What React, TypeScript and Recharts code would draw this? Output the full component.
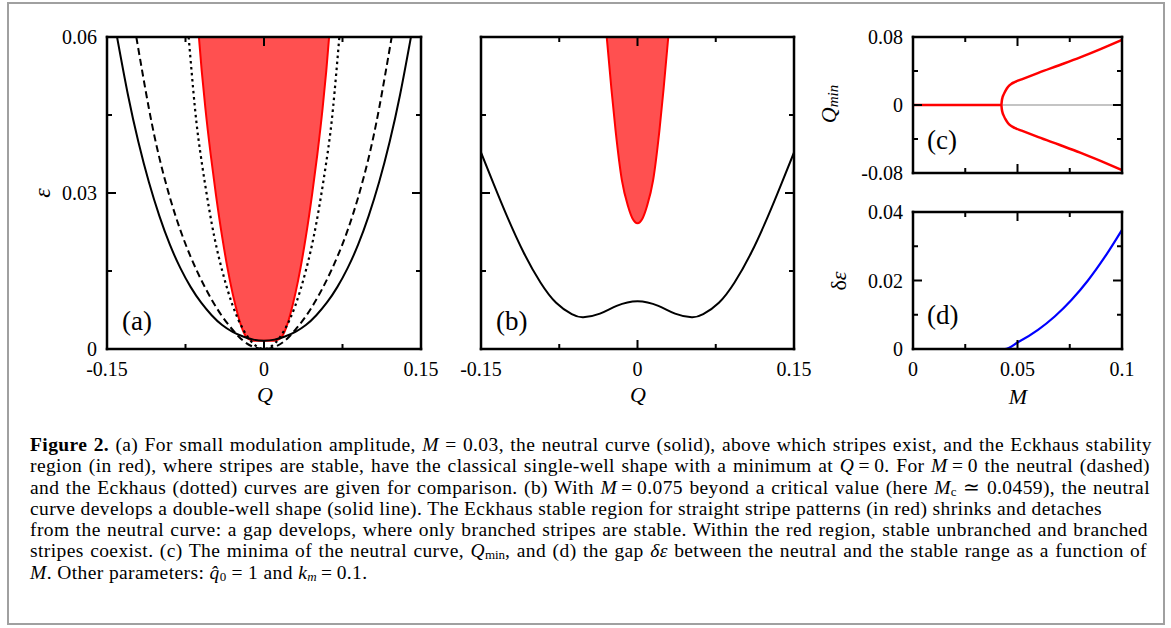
import React from 'react';
import { ComposedChart, Line, Area, XAxis, YAxis } from 'recharts';

// (a) M = 0.03 neutral curve (solid)
const qNeutralA = [-0.1404, -0.13, -0.12, -0.11, -0.1, -0.09, -0.08, -0.07, -0.06, -0.05, -0.04, -0.03, -0.02, -0.01, 0, 0.01, 0.02, 0.03, 0.04, 0.05, 0.06, 0.07, 0.08, 0.09, 0.1, 0.11, 0.12, 0.13, 0.1404];
const epsNeutralA = [0.06, 0.0489, 0.0398, 0.0321, 0.0256, 0.0201, 0.0156, 0.0119, 0.0089, 0.0065, 0.0046, 0.0033, 0.0024, 0.0018, 0.0016, 0.0018, 0.0024, 0.0033, 0.0046, 0.0065, 0.0089, 0.0119, 0.0156, 0.0201, 0.0256, 0.0321, 0.0398, 0.0489, 0.06];

// (a) M = 0 neutral curve (dashed)
const qNeutral0 = [-0.122, -0.11, -0.1, -0.09, -0.08, -0.07, -0.06, -0.05, -0.04, -0.03, -0.02, -0.01, 0, 0.01, 0.02, 0.03, 0.04, 0.05, 0.06, 0.07, 0.08, 0.09, 0.1, 0.11, 0.122];
const epsNeutral0 = [0.06, 0.0463, 0.0368, 0.0292, 0.0229, 0.0177, 0.0133, 0.0095, 0.0063, 0.0037, 0.0016, 0.0004, 0, 0.0004, 0.0016, 0.0037, 0.0063, 0.0095, 0.0133, 0.0177, 0.0229, 0.0292, 0.0368, 0.0463, 0.06];

// (a) M = 0 Eckhaus curve (dotted)
const qEckhaus0 = [-0.072, -0.066, -0.06, -0.05, -0.04, -0.03, -0.02, -0.01, 0, 0.01, 0.02, 0.03, 0.04, 0.05, 0.06, 0.066, 0.072];
const epsEckhaus0 = [0.06, 0.0464, 0.0366, 0.0242, 0.0151, 0.0084, 0.0038, 0.001, 0, 0.001, 0.0038, 0.0084, 0.0151, 0.0242, 0.0366, 0.0464, 0.06];

// (a) Eckhaus stable region, M = 0.03 (lower edge, filled up to the top)
const qStableA = [-0.0622, -0.0595, -0.056, -0.051, -0.046, -0.04, -0.035, -0.03, -0.025, -0.02, -0.016, -0.012, -0.008, 0, 0.008, 0.012, 0.016, 0.02, 0.025, 0.03, 0.035, 0.04, 0.046, 0.051, 0.056, 0.0595, 0.0622];
const epsStableA = [0.06, 0.0535, 0.0463, 0.0375, 0.0298, 0.0216, 0.0157, 0.0107, 0.0066, 0.0035, 0.0021, 0.0017, 0.0016, 0.0016, 0.0016, 0.0017, 0.0021, 0.0035, 0.0066, 0.0107, 0.0157, 0.0216, 0.0298, 0.0375, 0.0463, 0.0535, 0.06];

// (b) M = 0.075 neutral curve
const qNeutralB = [-0.15, -0.138, -0.125, -0.109, -0.093, -0.078, -0.063, -0.052, -0.036, -0.02, 0, 0.02, 0.036, 0.052, 0.063, 0.078, 0.093, 0.109, 0.125, 0.138, 0.15];
const epsNeutralB = [0.0378, 0.0318, 0.0255, 0.0185, 0.0128, 0.0089, 0.0067, 0.0061, 0.0068, 0.0083, 0.0092, 0.0083, 0.0068, 0.0061, 0.0067, 0.0089, 0.0128, 0.0185, 0.0255, 0.0318, 0.0378];

// (b) Eckhaus stable region
const qStableB = [-0.0295, -0.025, -0.021, -0.015, -0.009, -0.0048, 0, 0.0048, 0.009, 0.015, 0.021, 0.025, 0.0295];
const epsStableB = [0.06, 0.05, 0.042, 0.0325, 0.0274, 0.0251, 0.0242, 0.0251, 0.0274, 0.0325, 0.042, 0.05, 0.06];

// (c) Q_min vs M
const mFlatC = [0, 0.0423];
const qFlatC = [0, 0];
const mGrayC = [0.0423, 0.0957];
const qGrayC = [0, 0];
const mBranchC = [0.0423, 0.0425, 0.0429, 0.0434, 0.0443, 0.0455, 0.047, 0.0486, 0.052, 0.06, 0.07, 0.08, 0.09, 0.1];
const qUpperC = [0, 0.005, 0.0095, 0.0125, 0.017, 0.0215, 0.0248, 0.0269, 0.0302, 0.0378, 0.0468, 0.056, 0.066, 0.0765];
const qLowerC = [0, -0.005, -0.0095, -0.0125, -0.017, -0.0215, -0.0248, -0.0269, -0.0302, -0.0378, -0.0468, -0.056, -0.066, -0.0765];

// (d) gap delta-epsilon vs M
const mGapD = [0, 0.0439, 0.0502, 0.0598, 0.0678, 0.0758, 0.0837, 0.0917, 0.1];
const dEpsD = [0, 0, 0.00195, 0.0056, 0.0095, 0.0143, 0.02, 0.0268, 0.0348];

// ticks
const qTicks = [-0.15, -0.075, 0, 0.075, 0.15];
const qMajor = [-0.15, 0, 0.15];
const epsTicks = [0, 0.015, 0.03, 0.045, 0.06];
const epsMajor = [0, 0.03, 0.06];
const mTicks = [0, 0.025, 0.05, 0.075, 0.1];
const mMajor = [0, 0.05, 0.1];
const qminTicks = [-0.08, -0.04, 0, 0.04, 0.08];
const qminMajor = [-0.08, 0, 0.08];
const gapTicks = [0, 0.01, 0.02, 0.03, 0.04];
const gapMajor = [0, 0.02, 0.04];

const pts = (xs: number[], ys: number[]) => xs.map((x, i) => ({ x, y: ys[i] }));

const SERIF = '"Liberation Serif", "Times New Roman", serif';
const tickFont = { fontFamily: SERIF, fontSize: 20, fill: '#000' };

type Side = 'bottom' | 'top' | 'left' | 'right';

function tickRenderer(side: Side, majors: number[], labelled: boolean) {
  return (props: any) => {
    const { x, y, payload } = props;
    const v = payload.value as number;
    const major = majors.some((m) => Math.abs(m - v) < 1e-9);
    const len = major ? 9 : 5;
    const dx = side === 'left' ? len : side === 'right' ? -len : 0;
    const dy = side === 'bottom' ? -len : side === 'top' ? len : 0;
    let label = null;
    if (labelled && major) {
      label =
        side === 'bottom' ? (
          <text x={x} y={y + 27} textAnchor="middle" style={tickFont}>{String(v)}</text>
        ) : (
          <text x={x - 10} y={y + 7} textAnchor="end" style={tickFont}>{String(v)}</text>
        );
    }
    return (
      <g>
        <line x1={x} y1={y} x2={x + dx} y2={y + dy} stroke="#000" strokeWidth={2} />
        {label}
      </g>
    );
  };
}

const axisLine: any = { stroke: '#000', strokeWidth: 2.5, strokeLinecap: 'square' };

interface FrameProps {
  x: number;
  y: number;
  w: number;
  h: number;
  xDom: number[];
  yDom: number[];
  xTicks: number[];
  xMaj: number[];
  yTicks: number[];
  yMaj: number[];
  xLab: boolean;
  yLab: boolean;
  children: React.ReactNode;
}

function Frame({ x, y, w, h, xDom, yDom, xTicks, xMaj, yTicks, yMaj, xLab, yLab, children }: FrameProps) {
  const L = 100;
  const R = 12;
  const T = 12;
  const B = 40;
  const common = { type: 'number' as const, allowDataOverflow: true, interval: 0 as const, tickSize: 0, tickMargin: 0, tickLine: false, axisLine };
  return (
    <div style={{ position: 'absolute', left: x - L, top: y - T }}>
      <ComposedChart width={L + w + R} height={T + h + B} margin={{ top: 0, right: 0, bottom: 0, left: 0 }}>
        {children}
        <XAxis xAxisId="b" dataKey="x" orientation="bottom" height={B} domain={xDom} ticks={xTicks} tick={tickRenderer('bottom', xMaj, xLab)} {...common} />
        <XAxis xAxisId="t" dataKey="x" orientation="top" height={T} domain={xDom} ticks={xTicks} tick={tickRenderer('top', xMaj, false)} {...common} />
        <YAxis yAxisId="l" dataKey="y" orientation="left" width={L} domain={yDom} ticks={yTicks} tick={tickRenderer('left', yMaj, yLab)} {...common} />
        <YAxis yAxisId="r" dataKey="y" orientation="right" width={R} domain={yDom} ticks={yTicks} tick={tickRenderer('right', yMaj, false)} {...common} />
      </ComposedChart>
    </div>
  );
}

const ids = { xAxisId: 'b', yAxisId: 'l' };
const subStyle = { fontSize: 13, lineHeight: '13px', letterSpacing: 0, verticalAlign: '-2px' };

const captionLines = [
  { w: 1122, content: (<><b>Figure 2.</b> (a) For small modulation amplitude, <i>M</i> = 0.03, the neutral curve (solid), above which stripes exist, and the Eckhaus stability</>) },
  { w: 1120, content: (<>region (in red), where stripes are stable, have the classical single-well shape with a minimum at <i>Q</i>{'\u2009'}={'\u2009'}0. For <i>M</i>{'\u2009'}={'\u2009'}0 the neutral (dashed)</>) },
  { w: 1120, content: (<>and the Eckhaus (dotted) curves are given for comparison. (b) With <i>M</i>{'\u2009'}={'\u2009'}0.075 beyond a critical value (here <i>M</i><span style={subStyle}>c</span>{' '}≃ 0.0459), the neutral</>) },
  { w: 1068, content: (<>curve develops a double-well shape (solid line). The Eckhaus stable region for straight stripe patterns (in red) shrinks and detaches</>) },
  { w: 1118, content: (<>from the neutral curve: a gap develops, where only branched stripes are stable. Within the red region, stable unbranched and branched</>) },
  { w: 1117, content: (<>stripes coexist. (c) The minima of the neutral curve, <i>Q</i><span style={subStyle}>min</span>, and (d) the gap <i>δε</i> between the neutral and the stable range as a function of</>) },
  { w: 0, content: (<><i>M</i>. Other parameters: <i>q̂</i><span style={subStyle}>0</span> = 1 and <i>k<span style={subStyle}>m</span></i>{'\u2009'}={'\u2009'}0.1.</>) },
];

export default function App() {
  const title = { fontFamily: SERIF, fontSize: 22, fontStyle: 'italic' as const, fill: '#000' };
  const letter = { fontFamily: SERIF, fontSize: 27, fill: '#000' };
  return (
    <div style={{ position: 'absolute', left: 0, top: 0, width: 1171, height: 628, background: '#fff', overflow: 'hidden' }}>
      <style>{'.recharts-surface{overflow:visible}'}</style>

      <Frame x={107} y={37} w={314} h={312} xDom={[-0.15, 0.15]} yDom={[0, 0.06]} xTicks={qTicks} xMaj={qMajor} yTicks={epsTicks} yMaj={epsMajor} xLab yLab>
        <Area {...ids} data={pts(qStableA, epsStableA)} dataKey="y" type="monotone" baseValue={0.06} fill="#ff5050" fillOpacity={1} stroke="#ff0000" strokeWidth={2} isAnimationActive={false} />
        <Line {...ids} data={pts(qEckhaus0, epsEckhaus0)} dataKey="y" type="natural" stroke="#000" strokeWidth={2.2} strokeDasharray="2.5 3.5" dot={false} isAnimationActive={false} />
        <Line {...ids} data={pts(qNeutral0, epsNeutral0)} dataKey="y" type="natural" stroke="#000" strokeWidth={2} strokeDasharray="7 4" dot={false} isAnimationActive={false} />
        <Line {...ids} data={pts(qNeutralA, epsNeutralA)} dataKey="y" type="natural" stroke="#000" strokeWidth={2} dot={false} isAnimationActive={false} />
      </Frame>

      <Frame x={481} y={37} w={313} h={312} xDom={[-0.15, 0.15]} yDom={[0, 0.06]} xTicks={qTicks} xMaj={qMajor} yTicks={epsTicks} yMaj={epsMajor} xLab yLab={false}>
        <Area {...ids} data={pts(qStableB, epsStableB)} dataKey="y" type="monotone" baseValue={0.06} fill="#ff5050" fillOpacity={1} stroke="#ff0000" strokeWidth={2} isAnimationActive={false} />
        <Line {...ids} data={pts(qNeutralB, epsNeutralB)} dataKey="y" type="natural" stroke="#000" strokeWidth={2} dot={false} isAnimationActive={false} />
      </Frame>

      <Frame x={913} y={37} w={209} h={136} xDom={[0, 0.1]} yDom={[-0.08, 0.08]} xTicks={mTicks} xMaj={mMajor} yTicks={qminTicks} yMaj={qminMajor} xLab={false} yLab>
        <Line {...ids} data={pts(mGrayC, qGrayC)} dataKey="y" type="linear" stroke="#c4c4c4" strokeWidth={2} dot={false} isAnimationActive={false} />
        <Line {...ids} data={pts(mFlatC, qFlatC)} dataKey="y" type="linear" stroke="#ff0000" strokeWidth={2.5} dot={false} isAnimationActive={false} />
        <Line {...ids} data={pts(mBranchC, qUpperC)} dataKey="y" type="monotone" stroke="#ff0000" strokeWidth={2.5} dot={false} isAnimationActive={false} />
        <Line {...ids} data={pts(mBranchC, qLowerC)} dataKey="y" type="monotone" stroke="#ff0000" strokeWidth={2.5} dot={false} isAnimationActive={false} />
      </Frame>

      <Frame x={913} y={212} w={209} h={137} xDom={[0, 0.1]} yDom={[0, 0.04]} xTicks={mTicks} xMaj={mMajor} yTicks={gapTicks} yMaj={gapMajor} xLab yLab>
        <Line {...ids} data={pts(mGapD, dEpsD)} dataKey="y" type="monotone" stroke="#0000ff" strokeWidth={2.2} dot={false} isAnimationActive={false} />
      </Frame>

      <svg width={1171} height={628} style={{ position: 'absolute', left: 0, top: 0, pointerEvents: 'none' }}>
        <rect x={8} y={3} width={1156} height={621} fill="none" stroke="#a0a0a0" strokeWidth={2} />
        <text x={42} y={193} transform="rotate(-90 42 193)" textAnchor="middle" dominantBaseline="central" style={{ ...title, fontSize: 24 }}>ε</text>
        <text x={265} y={402} textAnchor="middle" style={title}>Q</text>
        <text x={638} y={402} textAnchor="middle" style={title}>Q</text>
        <text x={1018} y={404} textAnchor="middle" style={title}>M</text>
        <text x={828} y={104} transform="rotate(-90 828 104)" textAnchor="middle" dominantBaseline="central" style={title}>
          Q<tspan fontSize={15} dy={5}>min</tspan>
        </text>
        <text x={838} y={281} transform="rotate(-90 838 281)" textAnchor="middle" dominantBaseline="central" style={{ ...title, fontStyle: 'normal' }}>
          δ<tspan fontStyle="italic">ε</tspan>
        </text>
        <text x={122} y={330} style={letter}>(a)</text>
        <text x={496} y={330} style={letter}>(b)</text>
        <text x={927} y={149} style={letter}>(c)</text>
        <text x={927} y={324} style={letter}>(d)</text>
      </svg>

      <div style={{ position: 'absolute', left: 30, top: 434, fontFamily: SERIF, fontSize: 19.5, letterSpacing: 0.4, lineHeight: '21.3px', color: '#000' }}>
        {captionLines.map((ln, i) => (
          <div key={i} style={ln.w ? { width: ln.w, height: 21.3, textAlign: 'justify', textAlignLast: 'justify', whiteSpace: 'nowrap' } : { height: 21.3, whiteSpace: 'nowrap' }}>
            {ln.content}
          </div>
        ))}
      </div>
    </div>
  );
}
